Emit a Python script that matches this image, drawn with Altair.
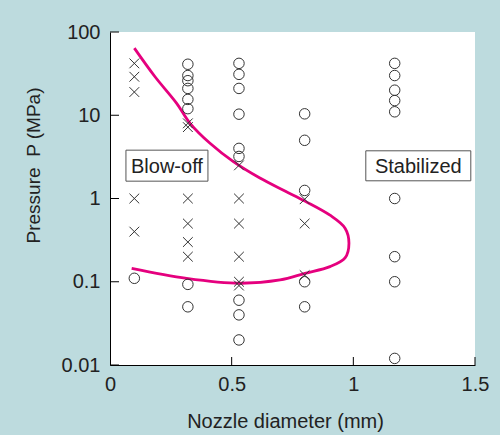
import altair as alt
import pandas as pd

# ---- data ----
cross_x = [0.10, 0.10, 0.10, 0.10, 0.10,
           0.32, 0.32, 0.32, 0.32, 0.32, 0.32,
           0.53, 0.53, 0.53, 0.53, 0.53, 0.53,
           0.80, 0.80, 0.80]
cross_p = [42, 29, 19, 1.0, 0.4,
           8.0, 7.2, 1.0, 0.5, 0.3, 0.2,
           2.5, 1.0, 0.5, 0.2, 0.1, 0.09,
           0.98, 0.5, 0.12]

circle_x = [0.10,
            0.32, 0.32, 0.32, 0.32, 0.32, 0.32, 0.32, 0.32,
            0.53, 0.53, 0.53, 0.53, 0.53, 0.53, 0.53, 0.53, 0.53,
            0.80, 0.80, 0.80, 0.80, 0.80,
            1.17, 1.17, 1.17, 1.17, 1.17, 1.17, 1.17, 1.17, 1.17]
circle_p = [0.11,
            41, 30, 26, 21, 15.5, 12, 0.093, 0.05,
            42, 31, 21, 10.3, 4.0, 3.2, 0.06, 0.04, 0.02,
            10.4, 5.0, 1.25, 0.1, 0.05,
            42, 30, 20, 15, 11, 1.0, 0.2, 0.1, 0.012]

curve_x = [0.100, 0.185, 0.274, 0.329, 0.411, 0.507, 0.616, 0.719, 0.801,
           0.904, 0.966, 0.982, 0.966, 0.904, 0.801, 0.699, 0.534, 0.315, 0.089]
curve_p = [64, 29, 13.9, 8.0, 4.6, 2.77, 1.76, 1.23, 0.93,
           0.63, 0.44, 0.29, 0.193, 0.152, 0.126, 0.105, 0.096, 0.110, 0.145]

label_text = ["Blow-off", "Stabilized"]
label_x = [0.234, 1.267]
label_p = [2.48, 2.47]

y_ticks = [0.01, 0.1, 1, 10, 100]
x_ticks = [0, 0.5, 1, 1.5]

# ---- styles ----
BG = "#BDDBDE"
INK = "#222222"
PINK = "#E5007E"
FONT = "Liberation Sans"
W, H = 365, 333

cross_df = pd.DataFrame({"d": cross_x, "p": cross_p})
circle_df = pd.DataFrame({"d": circle_x, "p": circle_p})
curve_df = pd.DataFrame({"d": curve_x, "p": curve_p, "o": list(range(len(curve_x)))})
ytick_df = pd.DataFrame({"p": y_ticks})
xtick_df = pd.DataFrame({"d": x_ticks[1:]})

xscale = alt.Scale(domain=[0, 1.5], nice=False, zero=False)
yscale = alt.Scale(type="log", domain=[0.01, 100], nice=False)

xaxis = alt.Axis(values=x_ticks, format="~g", title="Nozzle diameter (mm)",
                 titleX=175, titleY=62, titleBaseline="alphabetic", titleAlign="center",
                 labelPadding=9, labelFlush=False)
yaxis = alt.Axis(values=y_ticks, format="~g", title="Pressure\u00a0 P (MPa)",
                 titleX=-71, titleY=133, titleBaseline="alphabetic", titleAlign="center",
                 titleFontSize=19, labelPadding=10, labelFlush=False)

X = alt.X("d:Q", scale=xscale, axis=xaxis)
Y = alt.Y("p:Q", scale=yscale, axis=yaxis)

curve = alt.Chart(curve_df).mark_line(
    color=PINK, strokeWidth=2.8, interpolate="catmull-rom"
).encode(x=X, y=Y, order="o:Q")

crosses = alt.Chart(cross_df).mark_point(
    shape="M-1,-1L1,1M-1,1L1,-1", filled=False, stroke="#333333",
    strokeWidth=1, size=95, opacity=1
).encode(x=X, y=Y)

circles = alt.Chart(circle_df).mark_point(
    shape="circle", filled=False, stroke="#333333", strokeWidth=1, size=110, opacity=1
).encode(x=X, y=Y)

yticks = alt.Chart(ytick_df).mark_rule(color="black", strokeWidth=1).encode(
    y=alt.Y("p:Q", scale=yscale), x=alt.value(0), x2=alt.value(9))
xticks = alt.Chart(xtick_df).mark_rule(color="black", strokeWidth=1).encode(
    x=alt.X("d:Q", scale=xscale), y=alt.value(H), y2=alt.value(H - 8))

box_sizes = [(82, 31), (105, 30)]
layers = [curve, crosses, circles, yticks, xticks]
for i, (bw, bh) in enumerate(box_sizes):
    ldf = pd.DataFrame({"d": [label_x[i]], "p": [label_p[i]], "t": [label_text[i]]})
    box = alt.Chart(ldf).mark_rect(
        fill="white", stroke="#555555", strokeWidth=1,
        xOffset=-bw / 2, x2Offset=bw / 2, yOffset=-bh / 2, y2Offset=bh / 2
    ).encode(x=alt.X("d:Q", scale=xscale), x2="d:Q",
             y=alt.Y("p:Q", scale=yscale), y2="p:Q")
    txt = alt.Chart(ldf).mark_text(
        font=FONT, fontSize=20, color=INK, align="center", baseline="middle", dy=1
    ).encode(x=alt.X("d:Q", scale=xscale), y=alt.Y("p:Q", scale=yscale), text="t:N")
    layers += [box, txt]

chart = alt.layer(*layers).properties(
    width=W, height=H,
    background=BG,
    padding={"left": 110, "top": 32, "right": 25, "bottom": 70},
    autosize=alt.AutoSizeParams(type="none"),
).configure_view(
    fill="white", strokeWidth=0
).configure_axis(
    grid=False, ticks=False, tickSize=0,
    domainColor="black", domainWidth=1,
    labelFont=FONT, labelFontSize=20, labelColor=INK,
    titleFont=FONT, titleFontSize=20, titleFontWeight="normal", titleColor=INK,
    labelOverlap=False,
)

chart.save("out.html", embed_options={"renderer": "svg", "actions": False})
